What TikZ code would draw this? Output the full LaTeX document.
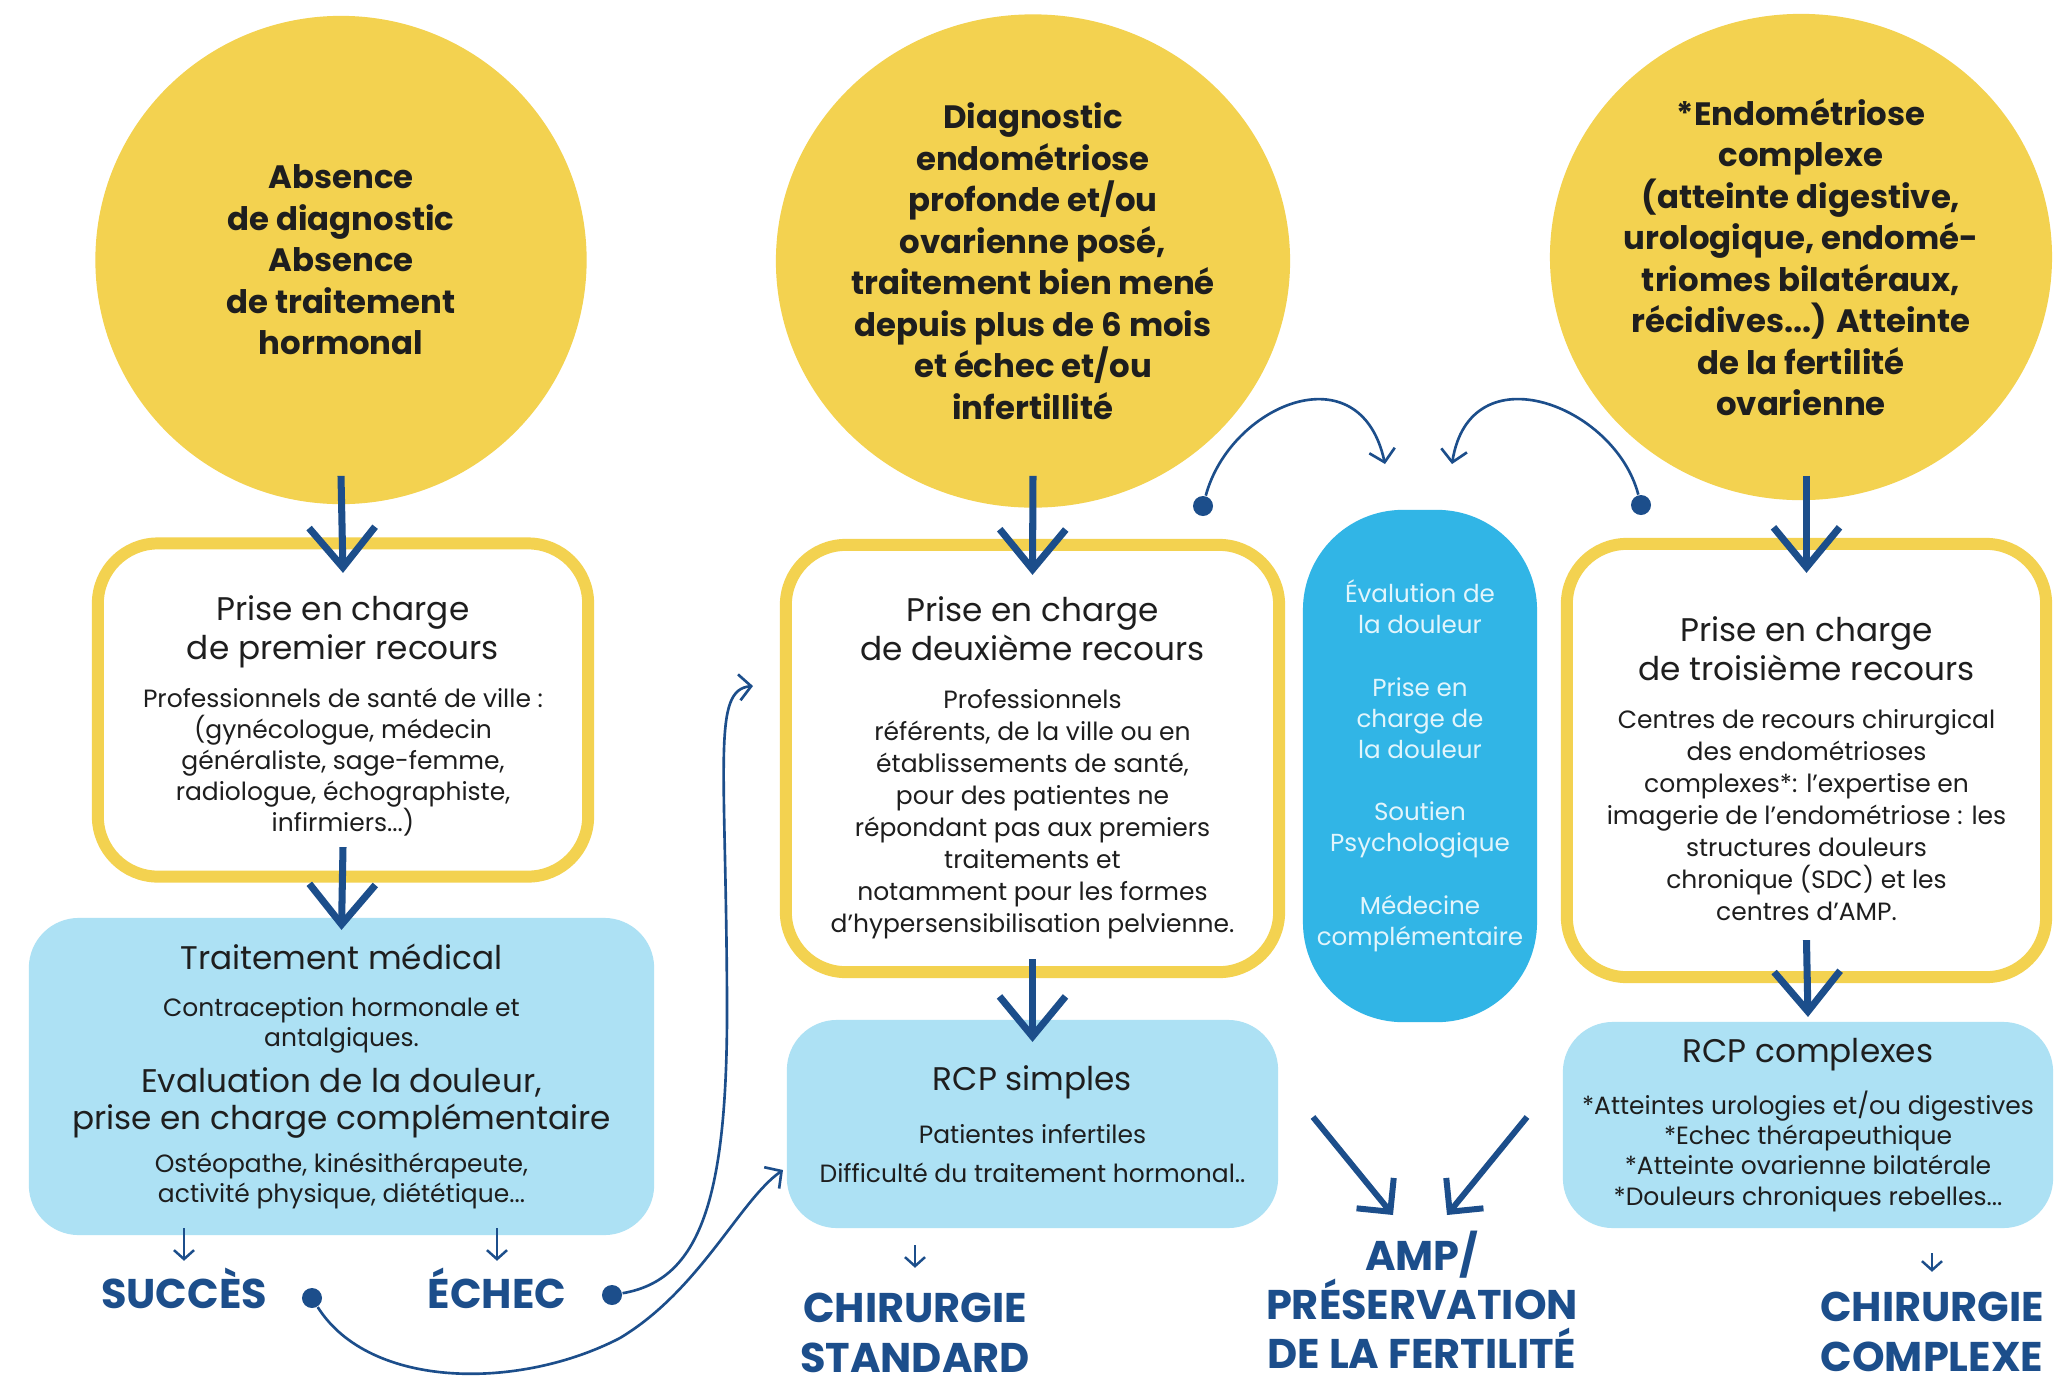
\documentclass[tikz,border=0pt]{standalone}
\usepackage{fontspec}
\setmainfont{Poppins}
\usetikzlibrary{shapes.geometric,arrows.meta}

\definecolor{yel}{HTML}{F3D250}
\definecolor{navy}{HTML}{1C4E8B}
\definecolor{lblue}{HTML}{ADE1F4}
\definecolor{pillblue}{HTML}{31B5E6}
\definecolor{pilltext}{HTML}{E2F5FC}
\definecolor{ink}{HTML}{1E1E1E}

\newcommand\circfont{\fontsize{9.2}{11.8}\selectfont\bfseries}
\newcommand\headfont{\fontsize{9.3}{11.2}\selectfont}
\newcommand\bodyfont{\fontsize{7.1}{8.8}\selectfont}
\newcommand\bodyfontw{\fontsize{7.1}{9.1}\selectfont}
\newcommand\outfont{\fontsize{11.8}{14}\selectfont\bfseries}
\newcommand\pillfont{\fontsize{7}{8.8}\selectfont}

\begin{document}
\begin{tikzpicture}[x=0.01cm, y=-0.01cm,
 circ/.style={ellipse, fill=yel, inner sep=0pt, align=center, font=\circfont, text=ink},
 ybox/.style={rectangle, rounded corners=0.6cm, draw=yel, line width=3.4pt, fill=white, inner sep=0pt, outer sep=0pt, align=flush center, text=ink},
 lbox/.style={rectangle, rounded corners=0.5cm, fill=lblue, inner sep=0pt, outer sep=0pt, align=flush center, text=ink},
 pillbox/.style={rectangle, rounded corners=1cm, fill=pillblue, inner sep=0pt, align=center, text=pilltext, font=\pillfont},
 bigarrow/.style={draw=navy, line width=2pt, -{Straight Barb[length=0.4cm,width=0.66cm]}},
 diagarrow/.style={draw=navy, line width=1.7pt, -{Straight Barb[length=0.24cm,width=0.48cm]}},
 thinarrow/.style={draw=navy, line width=0.75pt, -{Straight Barb[length=0.12cm,width=0.26cm]}},
 smallarrow/.style={draw=navy, line width=0.7pt, -{Straight Barb[length=0.09cm,width=0.2cm]}},
 dotn/.style={circle, fill=navy, inner sep=0pt, minimum size=0.2cm},
 outlab/.style={text=navy, font=\outfont, inner sep=0pt, align=center}]

\fill[white] (0,0) rectangle (2056,1384);
\useasboundingbox (0,0) rectangle (2056,1384);

% circles
\node[circ, minimum width=4.91cm, minimum height=4.88cm] (c1) at (341,260)
 {Absence\\de diagnostic\\Absence\\de traitement\\hormonal};
\node[circ, minimum width=4.93cm, minimum height=4.93cm] (c2) at (1033,261)
 {Diagnostic\\endométriose\\profonde et/ou\\ovarienne posé,\\traitement bien mené\\depuis plus de 6 mois\\et échec et/ou\\infertillité};
\node[circ, minimum width=4.81cm, minimum height=4.86cm] (c3) at (1801,257)
 {*Endométriose\\complexe\\(atteinte digestive,\\urologique, endomé-\\triomes bilatéraux,\\récidives...) Atteinte\\de la fertilité\\ovarienne};

% yellow boxes
\node[ybox, minimum width=4.9cm, minimum height=3.33cm, text width=4.7cm] (b1) at (343,710)
 {{\headfont Prise en charge\\de premier recours\par}\vspace{5pt}
  {\bodyfont Professionnels de santé de ville :\\(gynécologue, médecin\\généraliste, sage-femme,\\radiologue, échographiste,\\infirmiers...)\par}\kern-3.3pt};
\node[ybox, minimum width=4.93cm, minimum height=4.27cm, text width=4.75cm] (b2) at (1032.5,758.5)
 {{\headfont Prise en charge\\de deuxième recours\par}\vspace{4.3pt}
  {\bodyfontw Professionnels\\référents, de la ville ou en\\établissements de santé,\\pour des patientes ne\\répondant pas aux premiers\\traitements et\\notamment pour les formes\\d’hypersensibilisation pelvienne.\par}\kern-5.2pt};
\node[ybox, minimum width=4.79cm, minimum height=4.33cm, text width=4.6cm] (b3) at (1806.5,760.5)
 {{\headfont Prise en charge\\de troisième recours\par}\vspace{4.6pt}
  {\bodyfontw Centres de recours chirurgical\\des endométrioses\\complexes*: l’expertise en\\imagerie de l’endométriose : les\\structures douleurs\\chronique (SDC) et les\\centres d’AMP.\par}\kern-4.6pt};

% light blue boxes
\node[lbox, minimum width=6.25cm, minimum height=3.17cm, text width=6.1cm] (trt) at (341.5,1076.5)
 {{\fontsize{9.3}{10.8}\selectfont Traitement médical\par}\vspace{4.7pt}
  {\fontsize{7.1}{8.5}\selectfont Contraception hormonale et\\antalgiques.\par}\vspace{2.7pt}
  {\fontsize{9.3}{10.5}\selectfont Evaluation de la douleur,\\prise en charge complémentaire\par}\vspace{3.7pt}
  {\fontsize{7.1}{8.5}\selectfont Ostéopathe, kinésithérapeute,\\activité physique, diététique...\par}};
\node[lbox, minimum width=4.91cm, minimum height=2.08cm, text width=4.7cm] (rcp1) at (1032.5,1124)
 {{\headfont RCP simples\par}\vspace{4pt}
  {\fontsize{7.1}{11}\selectfont Patientes infertiles\\Difficulté du traitement hormonal..\par}};
\node[lbox, minimum width=4.9cm, minimum height=2.06cm, text width=4.8cm] (rcp2) at (1808,1125)
 {{\headfont RCP complexes\par}\vspace{4.6pt}
  {\fontsize{7.1}{8.6}\selectfont *Atteintes urologies et/ou digestives\\{}*Echec thérapeuthique\\{}*Atteinte ovarienne bilatérale\\{}*Douleurs chroniques rebelles...\par}};

% pill
\node[pillbox, minimum width=2.34cm, minimum height=5.12cm] (pill) at (1420,766)
 {Évalution de\\la douleur\\[9pt]Prise en\\charge de\\la douleur\\[9pt]Soutien\\Psychologique\\[9pt]Médecine\\complémentaire};

% outcome labels
\node[outlab, anchor=base] (succ) at (184,1308) {SUCCÈS};
\node[outlab, anchor=base] (echec) at (497,1308) {ÉCHEC};
\node[outlab] (chs) at (915,1333) {CHIRURGIE\\STANDARD};
\node[outlab] (amp) at (1422,1300) {AMP/\\PRÉSERVATION\\DE LA FERTILITÉ};
\node[outlab] (chc) at (1932,1332) {CHIRURGIE\\COMPLEXE};

% dots
\node[dotn] (dS) at (312,1298) {};
\node[dotn] (dE) at (612,1295) {};
\node[dotn] (d2) at (1203,506) {};
\node[dotn] (d3) at (1641,505) {};

% free ends
\coordinate (e2in) at (753,686);
\coordinate (s2in) at (783,1170);
\coordinate (p1in) at (1385,464);
\coordinate (p2in) at (1452,464);
\coordinate (amL) at (1313,1117);
\coordinate (amLt) at (1393,1215);
\coordinate (amR) at (1527,1117);
\coordinate (amRt) at (1447,1215);

% big vertical arrows
\draw[bigarrow] ([yshift=0.29cm]c1.south) -- ([yshift=-0.295cm]b1.north);
\draw[bigarrow] ([yshift=0.325cm]c2.south) -- ([yshift=-0.30cm]b2.north);
\draw[bigarrow] ([yshift=0.25cm]c3.south -| b3.north) -- ([yshift=-0.29cm]b3.north);
\draw[bigarrow] ([yshift=0.295cm]b1.south) -- ([yshift=-0.12cm]trt.north);
\draw[bigarrow] ([yshift=0.13cm]b2.south) -- ([yshift=-0.22cm]rcp1.north);
\draw[bigarrow] ([yshift=0.37cm]b3.south) -- ([yshift=0.05cm]rcp2.north);

% diagonal arrows to AMP
\draw[diagarrow] (amL) -- (amLt);
\draw[diagarrow] (amR) -- (amRt);

% small arrows to outcomes
\coordinate (sa1) at (trt.south -| succ.north);
\coordinate (sa2) at (trt.south -| echec.north);
\coordinate (sa3) at (rcp1.south -| chs.north);
\coordinate (sa4) at (rcp2.south -| chc.north);
\draw[smallarrow] ([yshift=0.07cm]sa1) -- ([yshift=0.06cm]succ.north);
\draw[smallarrow] ([yshift=0.07cm]sa2) -- ([yshift=0.06cm]echec.north);
\draw[smallarrow] ([yshift=-0.17cm]sa3) -- ([yshift=0.25cm]chs.north);
\draw[smallarrow] ([yshift=-0.25cm]sa4) -- ([yshift=0.2cm]chc.north);

% curved connectors
\draw[thinarrow] (dE) .. controls (700,1280) and (728,1200) .. (727,1000)
  .. controls (726,760) and (712,690) .. (e2in);
\draw[thinarrow] (dS) .. controls (370,1390) and (520,1390) .. (620,1338)
  .. controls (700,1290) and (740,1200) .. (s2in);
\draw[thinarrow] (d2) .. controls (1230,405) and (1360,350) .. (p1in);
\draw[thinarrow] (d3) .. controls (1615,405) and (1470,350) .. (p2in);

\end{tikzpicture}
\end{document}
